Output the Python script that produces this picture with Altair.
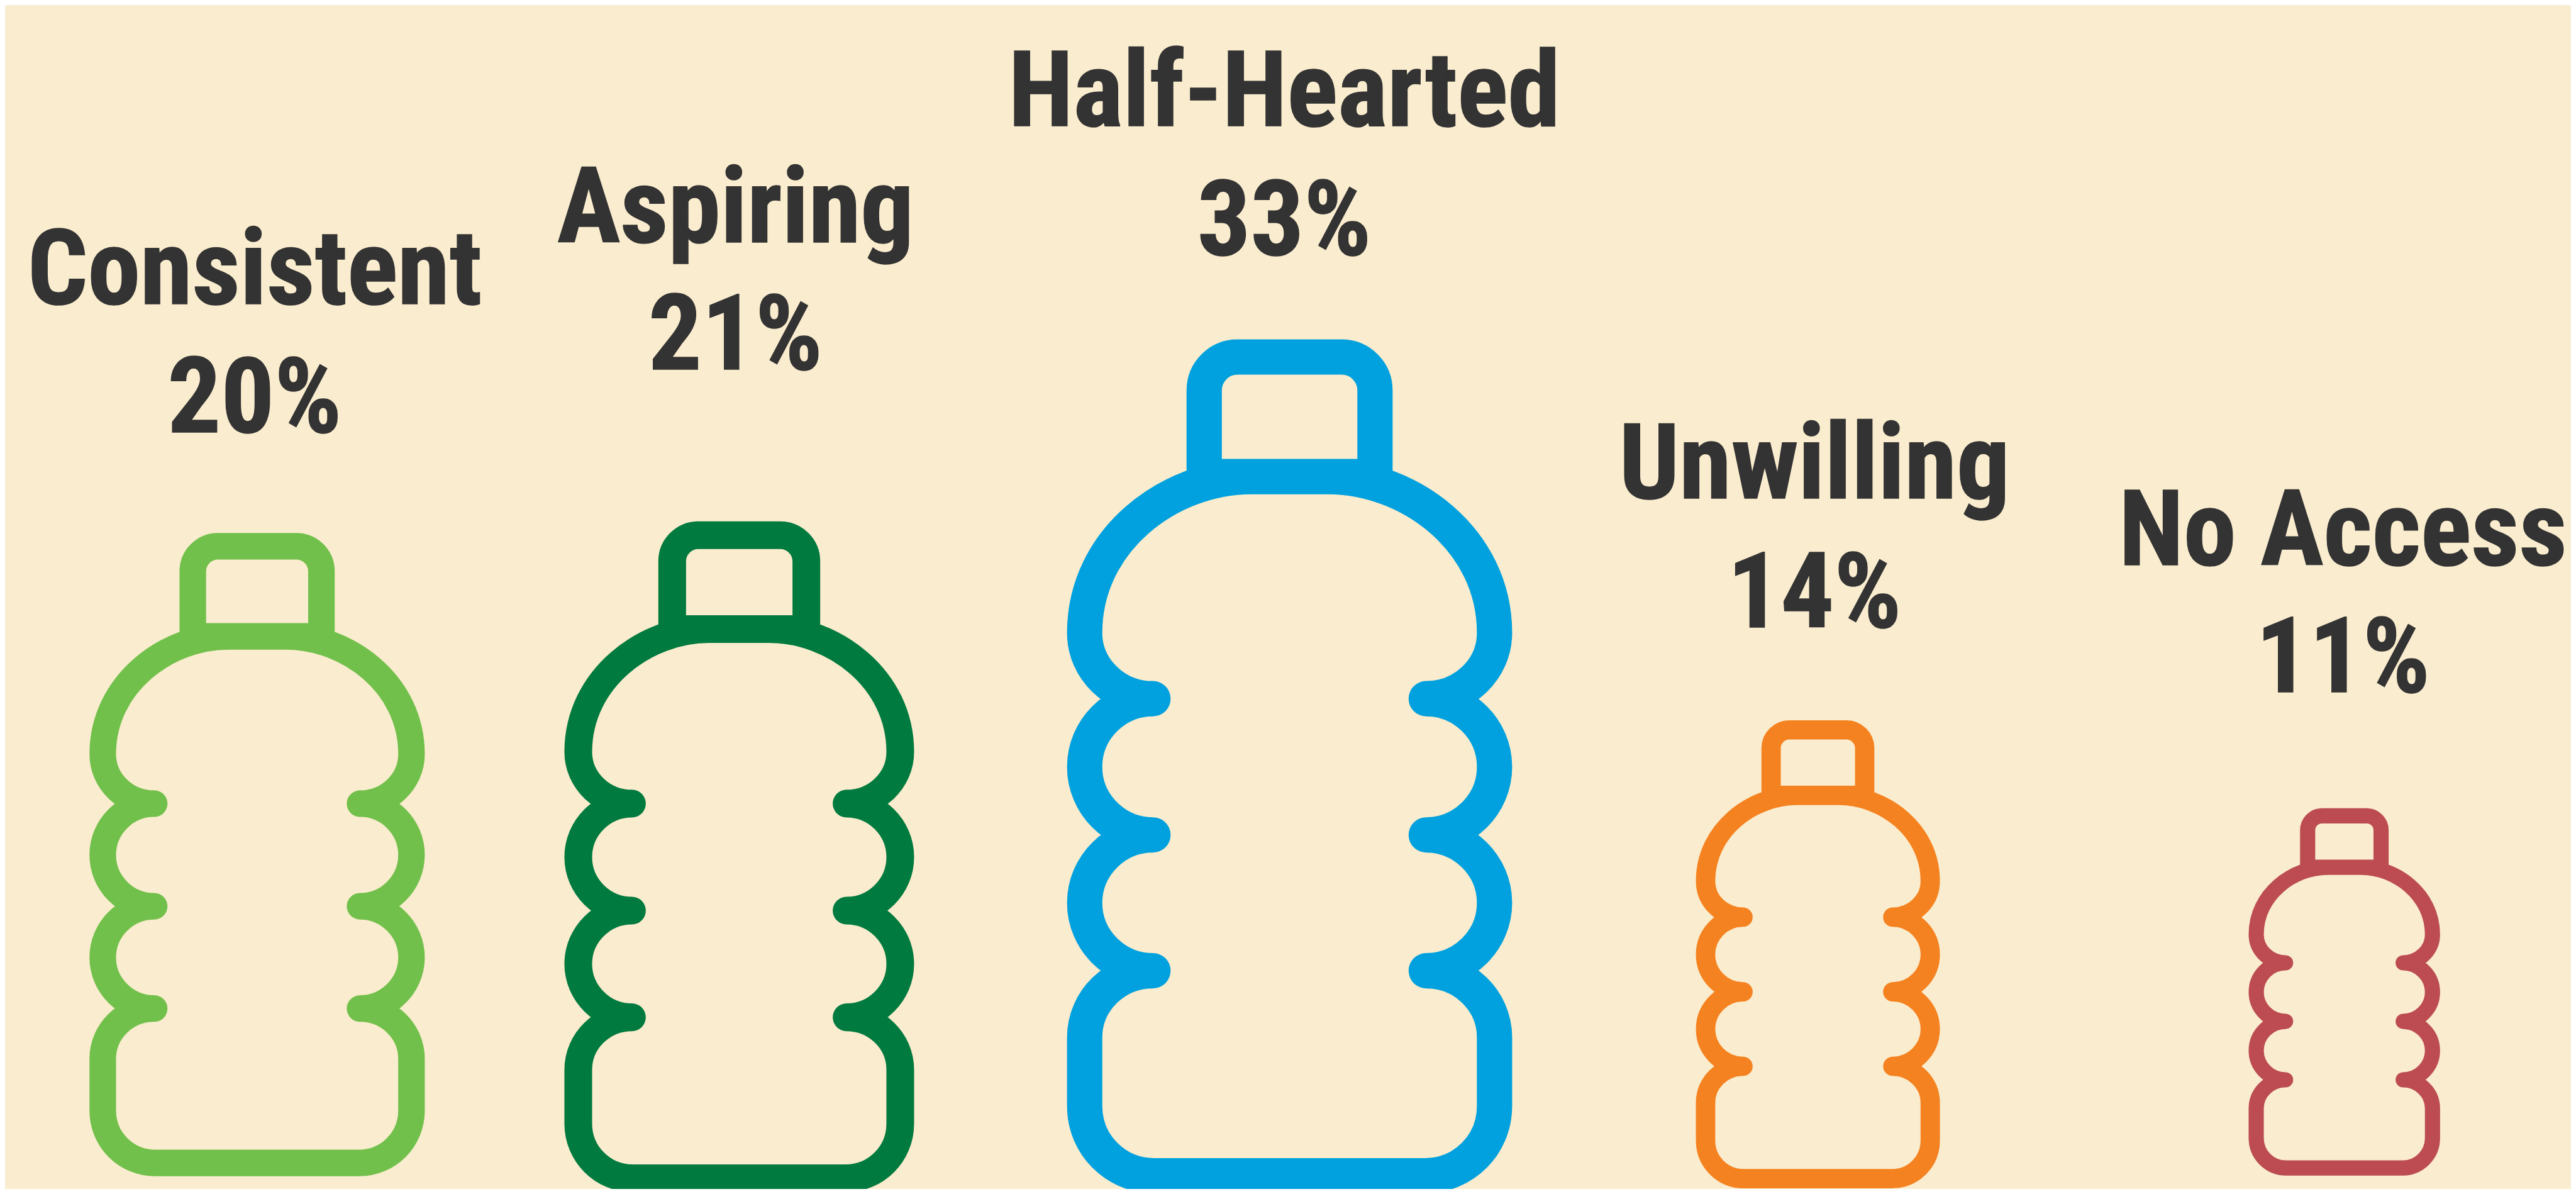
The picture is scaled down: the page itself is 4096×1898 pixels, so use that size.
import altair as alt
import pandas as pd

categories = ["Consistent", "Aspiring", "Half-Hearted", "Unwilling", "No Access"]
percents = [20, 21, 33, 14, 11]
labels = ["20%", "21%", "33%", "14%", "11%"]
order = [0, 1, 2, 3, 4]

k = 4096 / 4854
def px(v):
    return v * k - 8

BOTTLE = (
    "M-.09 -.677C-.28 -.677 -.48 -.53 -.48 -.311"
    "C-.48 -.226 -.408 -.157 -.32 -.157"
    "C-.408 -.157 -.48 -.085 -.48 .0025C-.48 .09 -.408 .162 -.32 .162"
    "C-.408 .162 -.48 .234 -.48 .321C-.48 .408 -.408 .48 -.32 .48"
    "C-.408 .48 -.48 .55 -.48 .636L-.48 .797C-.48 .887 -.408 .96 -.317 .96"
    "L.317 .96C.408 .96 .48 .887 .48 .797L.48 .636C.48 .55 .408 .48 .32 .48"
    "C.408 .48 .48 .408 .48 .321C.48 .234 .408 .162 .32 .162"
    "C.408 .162 .48 .09 .48 .0025C.48 -.085 .408 -.157 .32 -.157"
    "C.408 -.157 .48 -.226 .48 -.311C.48 -.53 .28 -.677 .09 -.677Z"
    "M-.2 -.677L-.2 -.879C-.2 -.922 -.165 -.957 -.122 -.957"
    "L.122 -.957C.165 -.957 .2 -.922 .2 -.879L.2 -.677Z"
)

df = pd.DataFrame({"category": categories, "pct": percents, "label": labels, "i": order})

pct_domain = [11, 14, 20, 21, 33]
heights = [692, 882, 1212, 1264, 1609]
centers_y = [1868, 1797, 1609, 1613, 1442.5]
name_base = [1064, 939, 572, 456, 237]
pct_base = [1304, 1182, 814, 696, 480]
FONT = "Roboto Condensed, Roboto"
FS = 199 * k

def S(dom, rng):
    return alt.Scale(type="linear", domain=dom, range=rng, zero=False, nice=False)

bottles = alt.Chart(df).mark_point(
    shape=BOTTLE, filled=False, opacity=1, strokeJoin="round", strokeCap="round"
).encode(
    x=alt.X("i:Q", axis=None, scale=S(order, [px(v) for v in [484.5, 1393, 2430, 3425.5, 4417.5]])),
    y=alt.Y("pct:Q", axis=None, scale=S(pct_domain, [px(v) for v in centers_y])),
    size=alt.Size("pct:Q", legend=None, scale=S(pct_domain, [(h * k) ** 2 for h in heights])),
    strokeWidth=alt.StrokeWidth("pct:Q", legend=None, scale=S(pct_domain, [0.0413 * h * k for h in heights])),
    color=alt.Color("category:N", legend=None, scale=alt.Scale(
        domain=categories, range=["#72c04c", "#007a3e", "#00a1de", "#f58220", "#bc4c52"])),
)

text_x = alt.X("i:Q", axis=None, scale=S(order, [px(v) for v in [480, 1386, 2420, 3419, 4415]]))
text_style = dict(
    font=FONT, fontWeight="bold", fontSize=FS, color="#333333", align="center", baseline="alphabetic",
    stroke="#333333", strokeWidth=1.5,
)
names = alt.Chart(df).mark_text(**text_style).encode(
    x=text_x, y=alt.Y("pct:Q", axis=None, scale=S(pct_domain, [px(v) for v in name_base])),
    text="category:N")
values = alt.Chart(df).mark_text(**text_style).encode(
    x=text_x, y=alt.Y("pct:Q", axis=None, scale=S(pct_domain, [px(v) for v in pct_base])),
    text="label:N")

chart = alt.layer(bottles, names, values).resolve_scale(
    x="independent", y="independent", size="independent", strokeWidth="independent", color="independent"
).properties(
    width=4080, height=1882, background="#faecce", padding=0,
    autosize=alt.AutoSizeParams(type="none"),
).configure_view(stroke=None)

chart.save("out.html", embed_options={"renderer": "svg", "actions": False})
